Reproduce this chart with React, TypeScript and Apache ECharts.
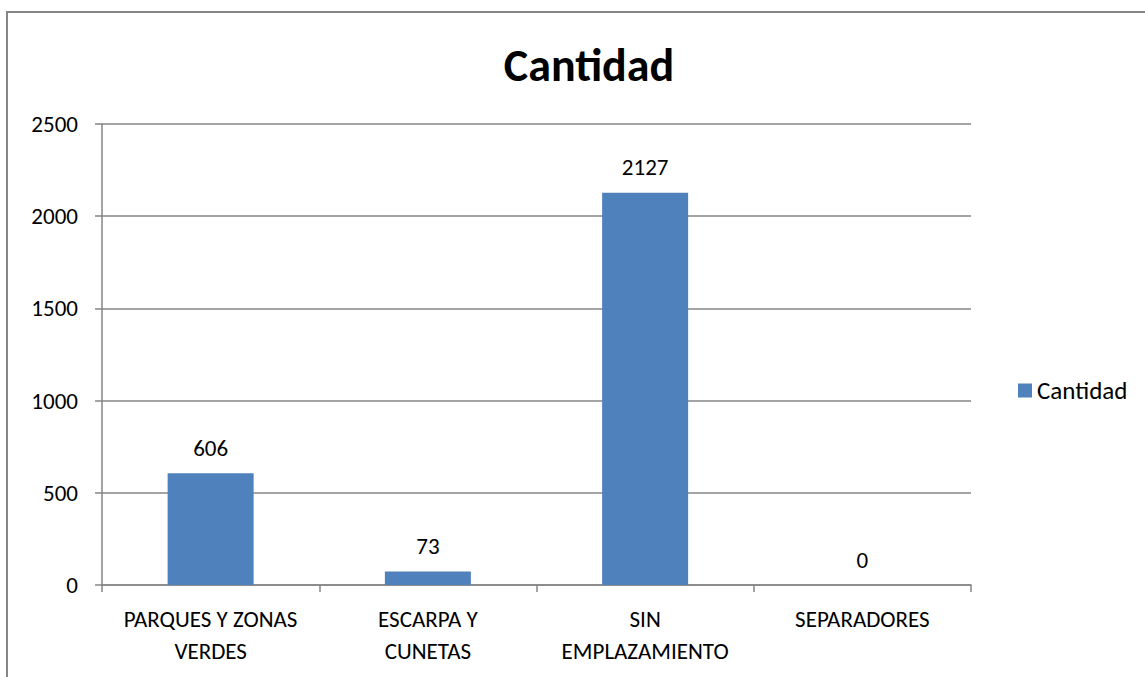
import React, { useEffect, useRef } from "react";
import * as echarts from "echarts";

const categories = ["PARQUES Y ZONAS\nVERDES", "ESCARPA Y\nCUNETAS", "SIN\nEMPLAZAMIENTO", "SEPARADORES"];
const values = [606, 73, 2127, 0];
const seriesName = "Cantidad";
const titleText = "Cantidad";

const FONT = "Carlito, Lato, 'Open Sans', sans-serif";

export default function App() {
  const ref = useRef<HTMLDivElement>(null);
  useEffect(() => {
    const chart = echarts.init(ref.current!, undefined, { renderer: "svg" });
    chart.setOption({
      animation: false,
      backgroundColor: "#ffffff",
      textStyle: { fontFamily: FONT, color: "#000" },
      title: {
        text: titleText,
        left: 584,
        textAlign: "center",
        top: 37,
        textStyle: { fontSize: 46, fontWeight: "bold", color: "#000", fontFamily: FONT },
      },
      legend: {
        data: [seriesName],
        left: 1013,
        top: 373,
        itemWidth: 14,
        itemHeight: 14,
        itemGap: 8,
        icon: "rect",
        textStyle: { fontSize: 25, color: "#000", fontFamily: FONT },
      },
      grid: { left: 102, right: 174, top: 124, bottom: 92, containLabel: false },
      xAxis: {
        type: "category",
        data: categories,
        axisLine: { lineStyle: { color: "#868686", width: 1.5 } },
        axisTick: { show: true, length: 7, lineStyle: { color: "#868686", width: 1.5 } },
        axisLabel: { interval: 0, fontSize: 23, color: "#000", lineHeight: 32, margin: 18, fontFamily: FONT },
      },
      yAxis: {
        type: "value",
        min: 0,
        max: 2500,
        interval: 500,
        axisLine: { show: true, lineStyle: { color: "#868686", width: 1.5 } },
        axisTick: { show: true, length: 7, lineStyle: { color: "#868686", width: 1.5 } },
        splitLine: { lineStyle: { color: "#868686", width: 1.5 } },
        axisLabel: { fontSize: 23, color: "#000", margin: 24, fontFamily: FONT, formatter: (v: number) => String(v) },
      },
      series: [
        {
          name: seriesName,
          type: "bar",
          data: values,
          barWidth: 86,
          itemStyle: { color: "#4F81BD" },
          label: { show: true, position: "top", distance: 14, fontSize: 23, color: "#000", fontFamily: FONT },
        },
      ],
      graphic: [
        {
          type: "rect",
          shape: { x: 7, y: 12, width: 1160, height: 700 },
          style: { fill: "none", stroke: "#868686", lineWidth: 2 },
          silent: true,
        },
      ],
    });
    return () => chart.dispose();
  }, []);
  return <div ref={ref} style={{ position: "absolute", left: 0, top: 0, width: 1145, height: 677 }} />;
}
